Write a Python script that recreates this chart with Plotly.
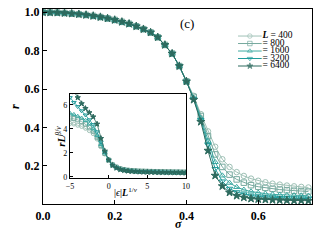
import plotly.graph_objects as go

# ---------------- data ----------------
L_values = [400, 800, 1600, 3200, 6400]
L_labels = ["<i><b>L</b></i> = 400", "= 800", "= 1600", "= 3200", "= 6400"]
colors = ["#9fc1b6", "#76a99e", "#3eaaa3", "#1f9b9b", "#2d6a5e"]
symbols = ["circle-open", "square-open", "triangle-up-open", "triangle-down-open", "star"]
main_sizes = [5.5, 5.5, 5.5, 5.5, 6]

sigma = [0.00, 0.02, 0.04, 0.06, 0.08, 0.10, 0.12, 0.14, 0.16, 0.18, 0.20,
         0.22, 0.24, 0.26, 0.28, 0.30, 0.32, 0.34, 0.36, 0.38, 0.40, 0.42,
         0.44, 0.46, 0.48, 0.50, 0.52, 0.54, 0.56, 0.58, 0.60, 0.62, 0.64,
         0.66, 0.68, 0.70, 0.72, 0.74]

r_common = [1.000, 0.999, 0.998, 0.996, 0.993, 0.990, 0.986, 0.981, 0.975,
            0.968, 0.960, 0.950, 0.940, 0.927, 0.912, 0.895, 0.870, 0.830,
            0.785, 0.720, 0.640]

r_400 = r_common + [0.565, 0.47, 0.38, 0.30, 0.235, 0.195, 0.168, 0.148, 0.134,
                    0.123, 0.115, 0.108, 0.103, 0.098, 0.094, 0.091, 0.088]
r_800 = r_common + [0.560, 0.46, 0.355, 0.26, 0.195, 0.155, 0.130, 0.113, 0.100,
                    0.092, 0.086, 0.081, 0.077, 0.074, 0.071, 0.069, 0.067]
r_1600 = r_common + [0.555, 0.45, 0.33, 0.22, 0.150, 0.112, 0.090, 0.076, 0.067,
                     0.060, 0.056, 0.052, 0.050, 0.048, 0.047, 0.046, 0.045]
r_3200 = r_common + [0.550, 0.44, 0.31, 0.185, 0.120, 0.082, 0.064, 0.053, 0.046,
                     0.041, 0.038, 0.036, 0.034, 0.033, 0.032, 0.031, 0.030]
r_6400 = r_common + [0.545, 0.43, 0.28, 0.150, 0.095, 0.062, 0.045, 0.036, 0.030,
                     0.027, 0.025, 0.023, 0.022, 0.021, 0.020, 0.020, 0.019]
r_series = [r_400, r_800, r_1600, r_3200, r_6400]

# inset: scaled data
eps_x = [-5, -4.5, -4, -3.5, -3, -2.5, -2, -1.5, -1, -0.5, 0, 0.5, 1, 1.5, 2,
         2.5, 3, 3.5, 4, 4.5, 5, 5.5, 6, 6.5, 7, 7.5, 8, 8.5, 9, 9.5, 10]
y_400 = [4.45, 4.40, 4.30, 4.20, 4.05, 3.85, 3.60, 3.15, 2.50, 1.90, 1.40, 1.05,
         0.85, 0.70, 0.62, 0.57, 0.54, 0.52, 0.50, 0.49, 0.48, 0.47, 0.46, 0.45,
         0.45, 0.44, 0.44, 0.43, 0.43, 0.42, 0.42]
y_800 = [4.90, 4.85, 4.75, 4.60, 4.40, 4.15, 3.80, 3.30, 2.60, 1.95, 1.40, 1.00,
         0.80, 0.67, 0.60, 0.55, 0.52, 0.50, 0.48, 0.47, 0.46, 0.45, 0.44, 0.43,
         0.43, 0.42, 0.42, 0.41, 0.41, 0.40, 0.40]
y_1600 = [5.30, 5.20, 5.05, 4.90, 4.70, 4.40, 4.00, 3.45, 2.70, 2.00, 1.40, 0.99,
          0.78, 0.65, 0.58, 0.53, 0.50, 0.48, 0.46, 0.45, 0.44, 0.43, 0.42, 0.41,
          0.41, 0.40, 0.40, 0.39, 0.39, 0.38, 0.38]
y_3200 = [6.60, 6.20, 5.85, 5.50, 5.15, 4.75, 4.35, 3.75, 2.90, 2.05, 1.40, 0.97,
          0.76, 0.63, 0.56, 0.51, 0.48, 0.46, 0.44, 0.43, 0.42, 0.41, 0.40, 0.39,
          0.39, 0.38, 0.38, 0.37, 0.37, 0.36, 0.36]
y_6400 = [7.60, 7.10, 6.60, 6.10, 5.70, 5.35, 5.00, 4.40, 3.20, 2.15, 1.40, 0.96,
          0.74, 0.61, 0.54, 0.49, 0.46, 0.44, 0.42, 0.41, 0.40, 0.39, 0.38, 0.37,
          0.37, 0.36, 0.36, 0.35, 0.35, 0.34, 0.34]
y_series = [y_400, y_800, y_1600, y_3200, y_6400]

x_ticks = [0.0, 0.2, 0.4, 0.6]
y_ticks = [0.2, 0.4, 0.6, 0.8, 1.0]
inset_xticks = [-5, 0, 5, 10]
inset_yticks = [0, 2, 4, 6]

SERIF = "Liberation Serif"

fig = go.Figure()

# main curves
for L, r, c, s, ms in zip(L_values, r_series, colors, symbols, main_sizes):
    fig.add_trace(go.Scatter(
        x=sigma, y=r, mode="lines+markers", name=f"L = {L}",
        line=dict(color=c, width=1),
        marker=dict(symbol=s, size=ms, color=c, line=dict(color=c, width=1)),
        showlegend=False, xaxis="x", yaxis="y"))

# inset curves
for L, yv, c, s in zip(L_values, y_series, colors, symbols):
    fig.add_trace(go.Scatter(
        x=eps_x, y=yv, mode="lines+markers",
        line=dict(color=c, width=0.8),
        marker=dict(symbol=s, size=4, color=c, line=dict(color=c, width=1)),
        showlegend=False, xaxis="x2", yaxis="y2"))

# compact legend drawn on an auxiliary hidden axis (rows = categories)
for lab, c, s in zip(L_labels, colors, symbols):
    fig.add_trace(go.Scatter(
        x=[0, 1.6, 3.2], y=[lab, lab, lab], mode="lines+markers",
        line=dict(color=c, width=1),
        marker=dict(symbol=s, size=[0, 4.5, 0], color=c, line=dict(color=c, width=1)),
        showlegend=False, hoverinfo="skip", xaxis="x3", yaxis="y3"))
fig.add_trace(go.Scatter(
    x=[3.3] * len(L_labels), y=L_labels, mode="text", text=L_labels,
    textposition="middle right",
    textfont=dict(family=SERIF, size=9.5, color="black"),
    showlegend=False, hoverinfo="skip", xaxis="x3", yaxis="y3"))

axis_common = dict(showline=True, linecolor="black", linewidth=1.2, mirror=True,
                   ticks="inside", tickcolor="black", showgrid=False,
                   zeroline=False, automargin=False)

fig.update_layout(
    width=320, height=240,
    margin=dict(l=43, r=8, t=9, b=36),
    paper_bgcolor="white", plot_bgcolor="white",
    font=dict(family=SERIF, color="black"),
    xaxis=dict(domain=[0, 1], range=[0, 0.75], tickvals=x_ticks,
               ticktext=[f"{v:.1f}" for v in x_ticks], ticklen=4,
               tickfont=dict(family=SERIF, size=12, weight="bold"),
               **axis_common),
    yaxis=dict(domain=[0, 1], range=[0.002, 1.017], tickvals=y_ticks,
               ticktext=[f"{v:.1f}" for v in y_ticks], ticklen=4,
               tickfont=dict(family=SERIF, size=12, weight="bold"),
               **axis_common),
    xaxis2=dict(domain=[0.1004, 0.5316], anchor="y2", range=[-5, 10],
                tickvals=inset_xticks, ticklen=3,
                tickfont=dict(family=SERIF, size=8),
                **axis_common),
    yaxis2=dict(domain=[0.133, 0.564], anchor="x2", range=[-0.1, 6.9],
                tickvals=inset_yticks, ticklen=3,
                tickfont=dict(family=SERIF, size=8),
                **axis_common),
    xaxis3=dict(domain=[0.725, 1.0], anchor="y3", range=[0, 10], visible=False,
                fixedrange=True),
    yaxis3=dict(domain=[0.682, 0.887], anchor="x3", type="category",
                categoryorder="array", categoryarray=L_labels,
                autorange="reversed", visible=False, fixedrange=True),
    annotations=[
        dict(text="(c)", xref="paper", yref="paper", x=0.535, y=0.928,
             xanchor="center", yanchor="middle",
             showarrow=False, font=dict(family=SERIF, size=13)),
        # main axis titles
        dict(text="<i><b>σ</b></i>", xref="paper", yref="paper", x=0.502, y=-0.1026,
             xanchor="center", yanchor="middle",
             showarrow=False, font=dict(family=SERIF, size=12)),
        dict(text="<i><b>r</b></i>", xref="paper", yref="paper", x=-0.104, y=0.497,
             xanchor="center", yanchor="middle", textangle=-90,
             showarrow=False, font=dict(family=SERIF, size=12)),
        # inset axis titles
        dict(text="|<i>ϵ</i>|<i><b>L</b></i><sup>1/<i>ν</i></sup>",
             xref="paper", yref="paper", x=0.31, y=0.062,
             xanchor="center", yanchor="middle",
             showarrow=False, font=dict(family=SERIF, size=10)),
        dict(text="<i><b>rL</b></i><sup><i>β</i>/<i>ν</i></sup>",
             xref="paper", yref="paper", x=0.066, y=0.349,
             xanchor="center", yanchor="middle", textangle=-90,
             showarrow=False, font=dict(family=SERIF, size=11)),
    ],
)

fig.write_html("out.html",
               config={"displayModeBar": False},
               post_script="document.body.style.margin='0';"
                           "document.body.style.overflow='hidden';")
